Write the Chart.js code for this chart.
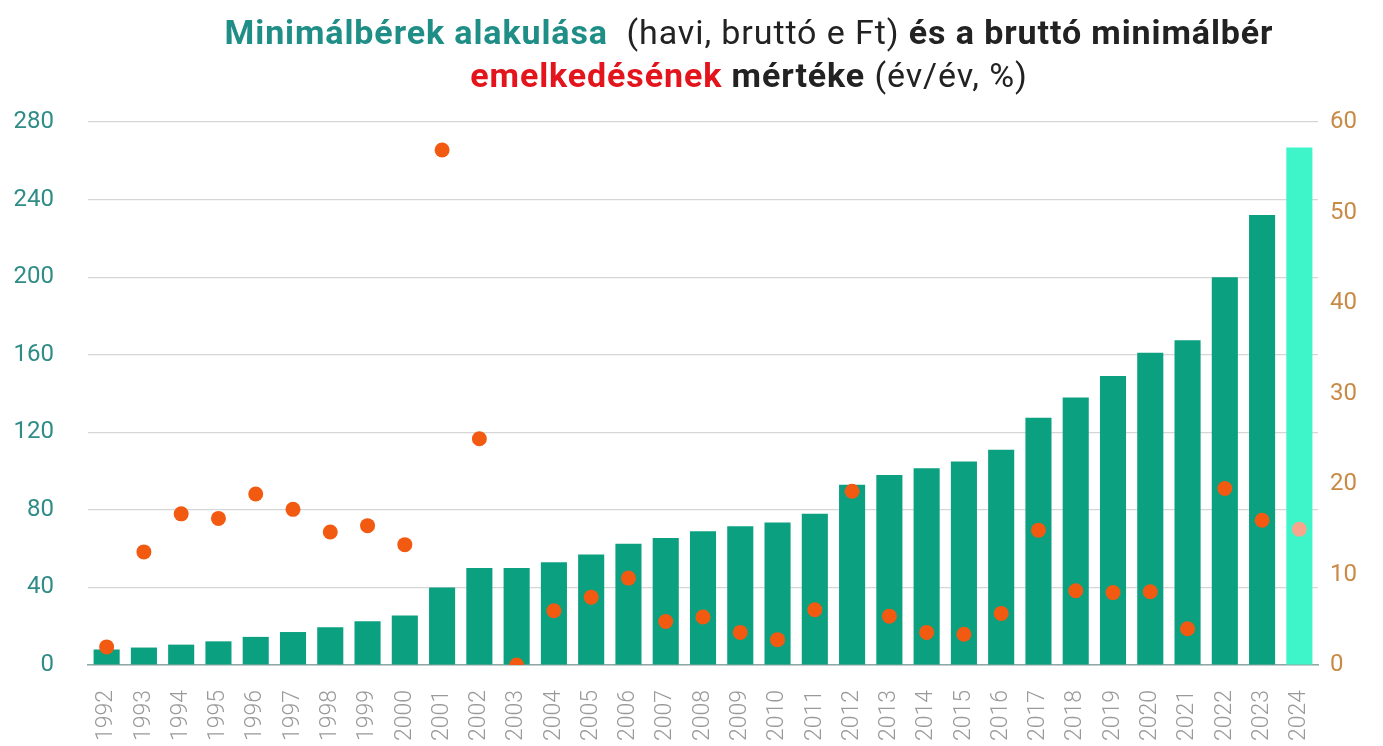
<!DOCTYPE html>
<html>
<head>
<meta charset="utf-8">
<script src="https://cdn.jsdelivr.net/npm/chart.js@4"></script>
<style>
  html, body { margin: 0; padding: 0; background: #fff; }
  #wrap { position: relative; width: 1383px; height: 746px; }
  #title {
    position: absolute; top: 11px; left: 0; width: 1383px; padding-left: 115px; box-sizing: border-box;
    text-align: center; font-family: Roboto, sans-serif; font-size: 34px; line-height: 43px;
    color: #222; letter-spacing: 0.9px;
  }
  #title b { font-weight: 700; }
  .teal { color: #1f8e86; }
  .red  { color: #e3141c; }
</style>
</head>
<body>
<div id="wrap">
  <div id="title">
    <b class="teal">Minimálbérek alakulása</b>&nbsp; (havi, bruttó e Ft) <b>és a bruttó minimálbér</b><br>
    <b class="red">emelkedésének</b> <b>mértéke</b> (év/év, %)
  </div>
  <canvas id="chart" width="1383" height="746"></canvas>
</div>
<script>
const years = ['1992','1993','1994','1995','1996','1997','1998','1999','2000','2001','2002',
  '2003','2004','2005','2006','2007','2008','2009','2010','2011','2012','2013','2014',
  '2015','2016','2017','2018','2019','2020','2021','2022','2023','2024'];

// havi bruttó minimálbér, ezer Ft
const wages = [8, 9, 10.5, 12.2, 14.5, 17, 19.5, 22.5, 25.5, 40, 50,
  50, 53, 57, 62.5, 65.5, 69, 71.5, 73.5, 78, 93, 98, 101.5,
  105, 111, 127.5, 138, 149, 161, 167.4, 200, 232, 266.8];

// emelkedés, év/év %
const growth = [2, 12.5, 16.7, 16.2, 18.9, 17.2, 14.7, 15.4, 13.3, 56.9, 25,
  0, 6, 7.5, 9.6, 4.8, 5.3, 3.6, 2.8, 6.1, 19.2, 5.4, 3.6,
  3.4, 5.7, 14.9, 8.2, 8, 8.1, 4, 19.5, 16, 15];

const leftTicks = [0, 40, 80, 120, 160, 200, 240, 280];
const rightTicks = [0, 10, 20, 30, 40, 50, 60];

const COLORS = {
  bar: '#0ba07f',
  barLast: '#3df5c9',
  dot: '#f25a12',
  dotLast: '#f7a58c',
  leftTick: '#2f8c86',
  rightTick: '#c98a45',
  xTick: '#9a9a9a',
  grid: '#d6d6d6',
};

const last = years.length - 1;

new Chart(document.getElementById('chart').getContext('2d'), {
  data: {
    labels: years,
    datasets: [
      {
        type: 'line',
        data: growth,
        yAxisID: 'y2',
        showLine: false,
        pointRadius: 7.5,
        pointHoverRadius: 7.5,
        pointBorderWidth: 0,
        pointBackgroundColor: growth.map((_, i) => i === last ? COLORS.dotLast : COLORS.dot),
        order: 0,
      },
      {
        type: 'bar',
        data: wages,
        yAxisID: 'y',
        backgroundColor: wages.map((_, i) => i === last ? COLORS.barLast : COLORS.bar),
        barPercentage: 0.7,
        categoryPercentage: 1,
        order: 1,
      },
    ],
  },
  options: {
    responsive: false,
    animation: false,
    layout: { padding: { top: 122, left: 0, right: 0, bottom: 0 } },
    plugins: { legend: { display: false }, tooltip: { enabled: false } },
    scales: {
      x: {
        offset: true,
        afterFit: s => { s.height = 81; s.paddingLeft = 0; s.paddingRight = 0; },
        grid: { display: false },
        border: { display: true, color: '#8fa7a5', width: 1.5 },
        ticks: {
          color: COLORS.xTick,
          font: { family: 'Roboto', size: 23, weight: 300 },
          minRotation: 90, maxRotation: 90, autoSkip: false, padding: 17,
        },
      },
      y: {
        position: 'left',
        min: leftTicks[0],
        max: leftTicks[leftTicks.length - 1],
        afterBuildTicks: axis => { axis.ticks = leftTicks.map(v => ({ value: v })); },
        afterFit: s => { s.width = 88; },
        grid: { color: COLORS.grid, lineWidth: 1.2, drawTicks: false },
        border: { display: false },
        ticks: { color: COLORS.leftTick, font: { family: 'Roboto', size: 24 }, padding: 34 },
      },
      y2: {
        position: 'right',
        min: rightTicks[0],
        max: rightTicks[rightTicks.length - 1],
        afterBuildTicks: axis => { axis.ticks = rightTicks.map(v => ({ value: v })); },
        afterFit: s => { s.width = 65; },
        grid: { display: false },
        border: { display: false },
        ticks: { color: COLORS.rightTick, font: { family: 'Roboto', size: 24 }, padding: 4 },
      },
    },
  },
});
</script>
</body>
</html>
